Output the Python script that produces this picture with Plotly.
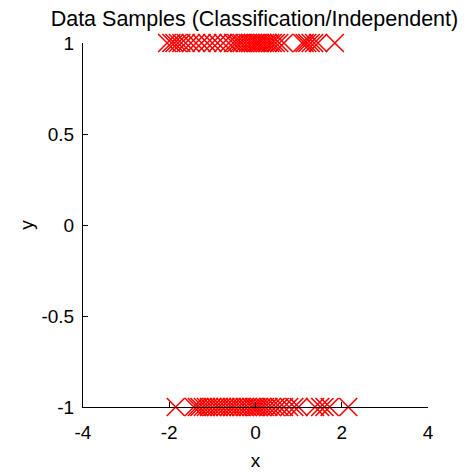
import plotly.graph_objects as go

title_text = "Data Samples (Classification/Independent)"
x_pos = [-2.05, -1.95, -1.88, -1.8, -1.72, -1.62, -1.5, -1.38, -1.25, -1.12, -1.0, -0.88,
         -0.75, -0.62, -0.52, -0.45, -0.38, -0.32, -0.25, -0.18, -0.12, -0.06, 0.0, 0.05,
         0.1, 0.16, 0.22, 0.28, 0.34, 0.4, 0.47, 0.55, 0.66, 1.08, 1.14, 1.2, 1.28, 1.36,
         1.45, 1.84]
x_neg = [-1.85, -1.43, -1.36, -1.3, -1.22, -1.15, -1.08, -1.0, -0.92, -0.85, -0.78, -0.7,
         -0.62, -0.55, -0.48, -0.4, -0.33, -0.25, -0.18, -0.1, -0.04, 0.02, 0.08, 0.15,
         0.22, 0.3, 0.38, 0.47, 0.56, 0.66, 0.78, 0.9, 1.0, 1.38, 1.5, 1.6, 1.72, 2.15]
y_pos = [1] * len(x_pos)
y_neg = [-1] * len(x_neg)

font = "Liberation Sans, Arial, sans-serif"
fig = go.Figure()
fig.add_trace(go.Scatter(x=x_pos + x_neg, y=y_pos + y_neg, mode="markers",
                         marker=dict(symbol="x-thin", size=18, line=dict(color="red", width=1.6)),
                         cliponaxis=False, showlegend=False))
fig.update_layout(
    width=473, height=473, plot_bgcolor="white", paper_bgcolor="white",
    margin=dict(l=75, r=53, t=35, b=74, autoexpand=False),
    title=dict(text=title_text, x=0.521, xanchor="center", y=0.993, yanchor="top",
               font=dict(family=font, size=21.5, color="black")),
    font=dict(family=font, size=19, color="black"),
    xaxis=dict(range=[-4, 4], tickvals=[-4, -2, 0, 2, 4], ticktext=["-4", "-2", "0", "2", "4"],
               showgrid=False, zeroline=False, showline=True, linecolor="black", linewidth=1,
               ticks="inside", ticklen=5, tickcolor="black", automargin=False,
               ticklabelstandoff=8,
               title=dict(text="x", standoff=11, font=dict(size=19))),
    yaxis=dict(range=[-1, 1], tickvals=[-1, -0.5, 0, 0.5, 1], ticktext=["-1", "-0.5", "0", "0.5", "1"],
               showgrid=False, zeroline=False, showline=True, linecolor="black", linewidth=1,
               ticks="inside", ticklen=5, tickcolor="black", automargin=False,
               ticklabelstandoff=4,
               title=dict(text="y", standoff=2, font=dict(size=19))),
)
fig.write_html("out.html")
